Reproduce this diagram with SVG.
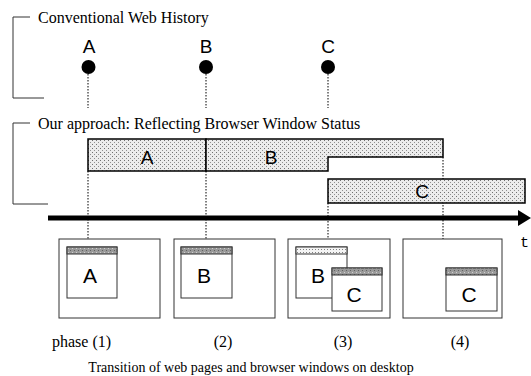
<svg xmlns="http://www.w3.org/2000/svg" width="531" height="376" viewBox="0 0 531 376">
<defs>
<pattern id="stip" width="4" height="4" patternUnits="userSpaceOnUse">
<rect width="4" height="4" fill="#ececec"/>
<rect x="0" y="0" width="1" height="1" fill="#707070"/>
<rect x="2" y="2" width="1" height="1" fill="#909090"/>
</pattern>
<pattern id="dark" width="4" height="4" patternUnits="userSpaceOnUse">
<rect width="4" height="4" fill="#9a9a9a"/>
<rect x="0" y="0" width="1" height="1" fill="#d0d0d0"/>
<rect x="2" y="2" width="1" height="1" fill="#606060"/>
</pattern>
<pattern id="light" width="3" height="3" patternUnits="userSpaceOnUse">
<rect width="3" height="3" fill="#f4f4f4"/>
<rect x="0" y="0" width="1" height="1" fill="#808080"/>
</pattern>
</defs>
<style>
.serif{font-family:"Liberation Serif",serif;font-size:16px;fill:#000}
.cap{font-family:"Liberation Serif",serif;font-size:14px;fill:#000}
.sans{font-family:"Liberation Sans",Arial,sans-serif;font-size:19px;fill:#000}
.wl{font-family:"Liberation Sans",Arial,sans-serif;font-size:21px;fill:#000}
.br{fill:none;stroke:#333;stroke-width:1}
.dot{stroke:#000;stroke-width:1;stroke-dasharray:1.5 1.5;fill:none}
.bar{fill:url(#stip);stroke:#000;stroke-width:1.5}
.scr{fill:#fff;stroke:#333;stroke-width:1}
.win{fill:#fff;stroke:#333;stroke-width:1}
.tb{fill:url(#dark);stroke:#333;stroke-width:1}
.tbl{fill:url(#light);stroke:#333;stroke-width:1}
</style>
<g id="connectors">
<line class="dot" x1="88" y1="74" x2="88" y2="108"/>
<line class="dot" x1="206" y1="74" x2="206" y2="108"/>
<line class="dot" x1="328" y1="74" x2="328" y2="108"/>
<line class="dot" x1="88" y1="171" x2="88" y2="239"/>
<line class="dot" x1="206" y1="171" x2="206" y2="239"/>
<line class="dot" x1="328" y1="203" x2="328" y2="239"/>
<line class="dot" x1="443" y1="157" x2="443" y2="239"/>
<line x1="48" y1="218" x2="519" y2="218" stroke="#000" stroke-width="5"/>
<polygon points="518,210 531,218 518,226" fill="#000"/>
</g>
<g id="conventional">
<polyline class="br" points="30,17 13,17 13,98 44,98"/>
<text class="serif" x="38" y="23">Conventional Web History</text>
</g>
<g id="histA"><text class="sans" x="89" y="53" text-anchor="middle">A</text><circle cx="88.5" cy="67" r="7" fill="#000"/></g>
<g id="histB"><text class="sans" x="206" y="53" text-anchor="middle">B</text><circle cx="206" cy="67" r="7" fill="#000"/></g>
<g id="histC"><text class="sans" x="328" y="53" text-anchor="middle">C</text><circle cx="328" cy="67" r="7" fill="#000"/></g>
<g id="approach">
<polyline class="br" points="30,123 13,123 13,204 48,204"/>
<text class="serif" x="38" y="129">Our approach: Reflecting Browser Window Status</text>
</g>
<g id="barA"><rect class="bar" x="88" y="139" width="118" height="32"/><text class="sans" x="147" y="164" text-anchor="middle">A</text></g>
<g id="barB"><polygon class="bar" points="206,139 443,139 443,157 328,157 328,171 206,171"/><text class="sans" x="271" y="164" text-anchor="middle">B</text></g>
<g id="barC"><rect class="bar" x="328" y="179" width="197" height="24"/><text class="sans" x="422" y="198" text-anchor="middle">C</text></g>
<g id="tlabel"><text x="520" y="247" font-family="Liberation Mono,monospace" font-size="15">t</text></g>
<g id="phase1">
<rect class="scr" x="59" y="239" width="101" height="79"/>
<rect class="win" x="67" y="247" width="50" height="51"/>
<rect class="tb" x="67" y="247" width="50" height="7"/>
<text class="wl" x="90" y="283" text-anchor="middle">A</text>
<text class="serif" x="52" y="347">phase (1)</text>
</g>
<g id="phase2">
<rect class="scr" x="174" y="239" width="101" height="79"/>
<rect class="win" x="181" y="247" width="51" height="51"/>
<rect class="tb" x="181" y="247" width="51" height="7"/>
<text class="wl" x="204" y="283" text-anchor="middle">B</text>
<text class="serif" x="223" y="347" text-anchor="middle">(2)</text>
</g>
<g id="phase3">
<rect class="scr" x="288" y="239" width="102" height="79"/>
<rect class="win" x="296" y="247" width="51" height="51"/>
<rect class="tbl" x="296" y="247" width="51" height="7"/>
<text class="wl" x="318" y="283" text-anchor="middle">B</text>
<rect class="win" x="332" y="268" width="50" height="43"/>
<rect class="tb" x="332" y="268" width="50" height="7"/>
<text class="wl" x="354" y="302" text-anchor="middle">C</text>
<text class="serif" x="343" y="347" text-anchor="middle">(3)</text>
</g>
<g id="phase4">
<rect class="scr" x="403" y="239" width="99" height="79"/>
<rect class="win" x="446" y="268" width="51" height="43"/>
<rect class="tb" x="446" y="268" width="51" height="7"/>
<text class="wl" x="469" y="302" text-anchor="middle">C</text>
<text class="serif" x="460" y="347" text-anchor="middle">(4)</text>
</g>
<g id="caption"><text class="cap" x="251" y="372" text-anchor="middle">Transition of web pages and browser windows on desktop</text></g>
</svg>
